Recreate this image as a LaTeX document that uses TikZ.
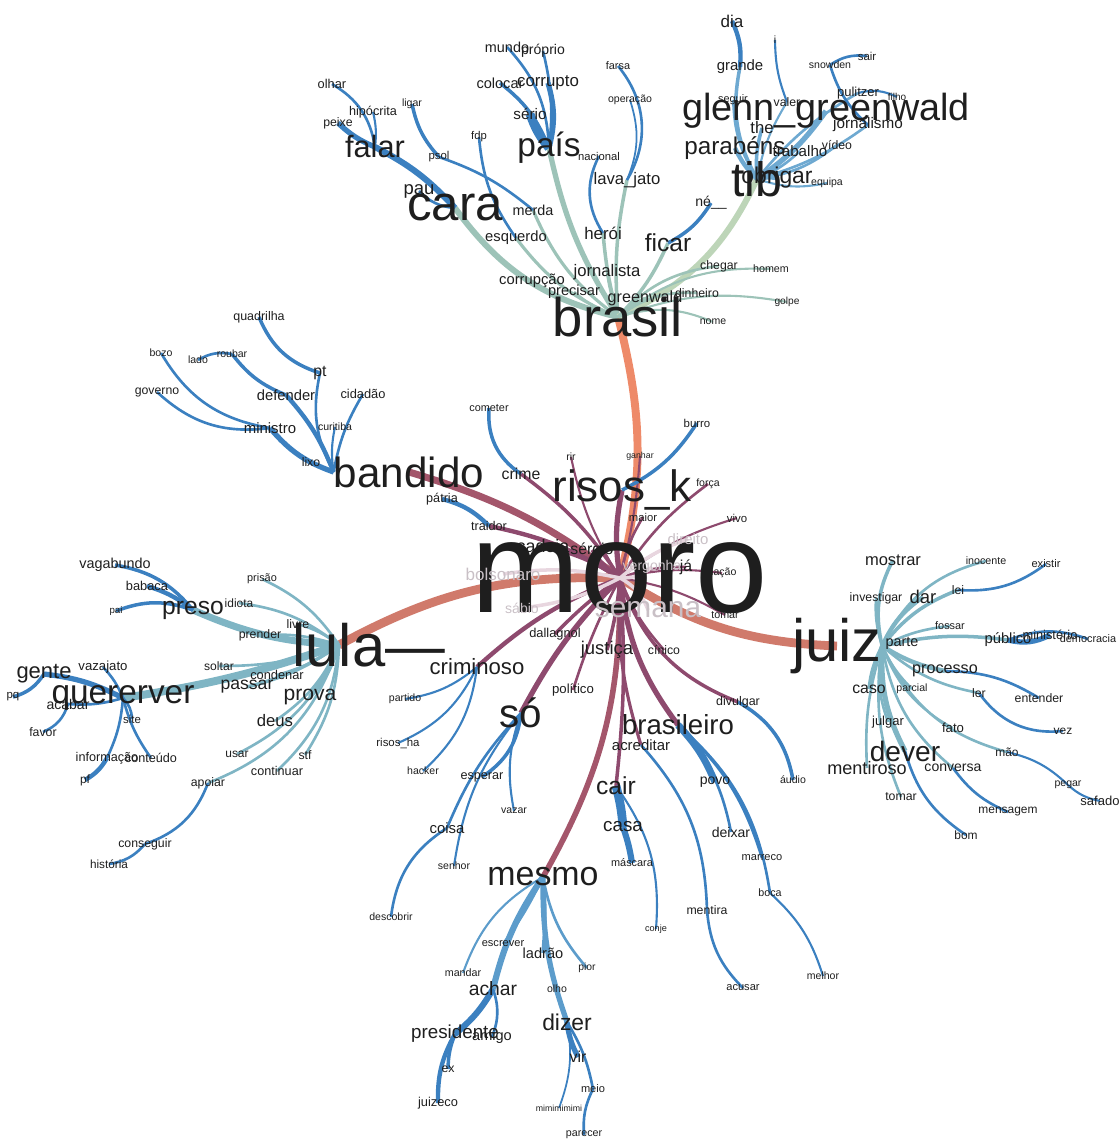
\documentclass[tikz,border=0pt]{standalone}
\usepackage{fontspec}
\setmainfont{Liberation Sans}
\usetikzlibrary{backgrounds}
\definecolor{cInk}{HTML}{1E1E1E}
\definecolor{cFaint}{HTML}{C9C0C6}
\definecolor{cOr}{HTML}{EE8A69}
\definecolor{cRed}{HTML}{D07A6B}
\definecolor{cWine}{HTML}{8E4A6E}
\definecolor{cWineL}{HTML}{A4566B}
\definecolor{cPink}{HTML}{E8D6DF}
\definecolor{cSage}{HTML}{9DC3B8}
\definecolor{cLeaf}{HTML}{BDD5B8}
\definecolor{cSky}{HTML}{6EA9D1}
\definecolor{cBlue}{HTML}{3B80C0}
\definecolor{cTeal}{HTML}{7FB5C4}
\definecolor{cMid}{HTML}{5C9CCB}
\begin{document}
\begin{tikzpicture}[x=0.02cm,y=-0.02cm,line cap=round]
\tikzset{w/.style={font=\fontsize{#1}{#1}\selectfont, inner sep=0pt, text=cInk},
    fw/.style={w=#1, text=cFaint},
    bl/.style={bend left=#1}, br/.style={bend right=#1}}
\tikzset{eOr/.style={draw=cOr,line width=#1pt}, eRed/.style={draw=cRed,line width=#1pt},
    eWine/.style={draw=cWine,line width=#1pt}, eWineL/.style={draw=cWineL,line width=#1pt},
    ePink/.style={draw=cPink,line width=#1pt}, eSage/.style={draw=cSage,line width=#1pt},
    eLeaf/.style={draw=cLeaf,line width=#1pt}, eSky/.style={draw=cSky,line width=#1pt},
    eBlue/.style={draw=cBlue,line width=#1pt}, eTeal/.style={draw=cTeal,line width=#1pt},
    eMid/.style={draw=cMid,line width=#1pt}}
\useasboundingbox (0,0) rectangle (1119,1142);

\node[w=74] (moro) at (620,578) {moro};
\node[w=31] (brasil) at (618,317) {brasil};
\node[w=34] (lula) at (339,645) {lula\rlap{—}};
\node[w=34] (juiz) at (837,646) {juiz};
\node[w=24] (bandido) at (409,472) {bandido};
\node[w=25] (risosk) at (622,490) {risos\_k};

% brasil
\node[w=28] (cara) at (455,208) {cara};
\node[w=19] (pais) at (549,148) {país};
\node[w=17.5] (falar) at (375,147) {falar};
\node[w=21.5] (glenn) at (826,111) {glenn\_greenwald};
\node[w=27.5] (tib) at (757,179) {tib};
\node[w=13.8] (parabens) at (735,148) {parabéns};
\node[w=13] (obrigar) at (777,178) {obrigar};
\node[w=9.5] (the) at (762,128) {the};
\node[w=14] (ficar) at (668,243) {ficar};
\node[w=9.5] (lavajato) at (627,180) {lava\_jato};
\node[w=9.6] (heroi) at (603,233) {herói};
\node[w=9.5] (jornalista) at (607,272) {jornalista};
\node[w=9.2] (greenwald) at (645,298) {greenwald};
\node[w=7] (dinheiro) at (697,293) {dinheiro};
\node[w=7] (chegar) at (719,266) {chegar};
\node[w=6.1] (homem) at (771,269) {homem};
\node[w=5.8] (golpe) at (787,302) {golpe};
\node[w=6] (nome) at (713,322) {nome};
\node[w=8] (ne) at (711,203) {né\_\_};
\node[w=8.5] (grande) at (740,67) {grande};
\node[w=9.7] (dia) at (732,21) {dia};
\node[w=6] (ii) at (775,40) {i};
\node[w=6.2] (seguir) at (733,100) {seguir};
\node[w=7] (valer) at (787,102) {valer};
\node[w=6] (snowden) at (830,65) {snowden};
\node[w=6.5] (sair) at (867,56) {sair};
\node[w=7.4] (pulitzer) at (858,93) {pulitzer};
\node[w=5.7] (filho) at (897,97) {filho};
\node[w=8.7] (jornalismo) at (868,125) {jornalismo};
\node[w=7] (video) at (837,145) {vídeo};
\node[w=8.6] (trabalho) at (800,151) {trabalho};
\node[w=6] (equipa) at (827,183) {equipa};
\node[w=6.2] (farsa) at (618,66) {farsa};
\node[w=6] (operacao) at (630,100) {operação};
\node[w=6.4] (nacional) at (599,156) {nacional};
\node[w=8.2] (mundo) at (507,47) {mundo};
\node[w=8] (proprio) at (543,51) {próprio};
\node[w=8.3] (colocar) at (500,83) {colocar};
\node[w=9.6] (corrupto) at (548,83) {corrupto};
\node[w=8.7] (serio) at (530,114) {sério};
\node[w=6.4] (fdp) at (479,137) {fdp};
\node[w=6.5] (psol) at (439,157) {psol};
\node[w=6] (ligar) at (412,104) {ligar};
\node[w=7.3] (olhar) at (332,84) {olhar};
\node[w=7.2] (hipocrita) at (373,112) {hipócrita};
\node[w=7] (peixe) at (338,123) {peixe};
\node[w=10.5] (pau) at (419,191) {pau};
\node[w=8.2] (merda) at (533,210) {merda};
\node[w=8.4] (esquerdo) at (516,238) {esquerdo};
\node[w=8.4] (corrupcao) at (532,281) {corrupção};
\node[w=8.3] (precisar) at (574,292) {precisar};

% bandido
\node[w=7.1] (quadrilha) at (259,317) {quadrilha};
\node[w=6] (bozo) at (161,353) {bozo};
\node[w=6] (lado) at (198,360) {lado};
\node[w=6] (roubar) at (232,354) {roubar};
\node[w=9] (pt) at (320,373) {pt};
\node[w=7] (governo) at (157,392) {governo};
\node[w=8.4] (defender) at (286,395) {defender};
\node[w=7.3] (cidadao) at (363,394) {cidadão};
\node[w=8.5] (ministro) at (270,428) {ministro};
\node[w=6] (curitiba) at (335,427) {curitiba};
\node[w=7] (lixo) at (311,462) {lixo};
\node[w=7.2] (patria) at (442,499) {pátria};
\node[w=7.2] (traidor) at (489,526) {traidor};
\node[w=6.2] (cometer) at (489,408) {cometer};
\node[w=9] (crime) at (521,474) {crime};
\node[w=6.5] (burro) at (697,423) {burro};

% moro
\node[w=6] (rir) at (571,457) {rir};
\node[w=5] (ganhar) at (640,456) {ganhar};
\node[w=6] (forca) at (708,484) {força};
\node[w=6.4] (maior) at (643,517) {maior};
\node[w=6.5] (vivo) at (737,518) {vivo};
\node[fw=8.5] (direito) at (688,539) {direito};
\node[w=10.2] (cadeia) at (543,546) {cadeia};
\node[w=9] (sergio) at (592,550) {sérgio};
\node[fw=8] (vergonha) at (652,567) {vergonha};
\node[w=9] (ja) at (686,567) {já};
\node[w=6] (nacao) at (722,573) {nação};
\node[fw=9.7] (bolsonaro) at (503,574) {bolsonaro};
\node[fw=8] (sabio) at (522,608) {sábio};
\node[fw=17] (semana) at (648,610) {semana};
\node[w=6.1] (tomar) at (725,615) {tomar};
\node[w=7.3] (dallagnol) at (555,634) {dallagnol};
\node[w=10.5] (justica) at (607,650) {justiça};
\node[w=7] (cinico) at (664,650) {cínico};

% lula
\node[w=8.2] (vagabundo) at (115,565) {vagabundo};
\node[w=7.3] (babaca) at (147,586) {babaca};
\node[w=6.2] (prisao) at (262,579) {prisão};
\node[w=5.5] (pai) at (116,611) {pai};
\node[w=14] (preso) at (193,610) {preso};
\node[w=6.8] (idiota) at (239,603) {idiota};
\node[w=7] (livre) at (298,624) {livre};
\node[w=7] (prender) at (260,635) {prender};
\node[w=12.5] (gente) at (44,674) {gente};
\node[w=7.5] (vazajato) at (103,667) {vazajato};
\node[w=6.9] (soltar) at (219,666) {soltar};
\node[w=7.3] (condenar) at (277,675) {condenar};
\node[w=10] (passar) at (247,687) {passar};
\node[w=19] (quererver) at (123,698) {quererver};
\node[w=12] (prova) at (310,697) {prova};
\node[w=6.5] (pq) at (13,697) {pq};
\node[w=8] (acabar) at (68,704) {acabar};
\node[w=6.5] (site) at (132,719) {site};
\node[w=9.5] (deus) at (275,721) {deus};
\node[w=7] (favor) at (43,732) {favor};
\node[w=6.8] (usar) at (237,754) {usar};
\node[w=7.2] (informacao) at (107,758) {informação};
\node[w=7.2] (conteudo) at (151,758) {conteúdo};
\node[w=7] (stf) at (305,755) {stf};
\node[w=6.8] (pf) at (85,780) {pf};
\node[w=7.2] (continuar) at (277,771) {continuar};
\node[w=7] (apoiar) at (208,783) {apoiar};
\node[w=7] (conseguir) at (145,844) {conseguir};
\node[w=6.7] (historia) at (109,864) {história};

% below moro
\node[w=12.6] (criminoso) at (477,667) {criminoso};
\node[w=7.5] (politico) at (573,690) {político};
\node[w=6] (partido) at (405,699) {partido};
\node[w=23] (so) at (521,713) {só};
\node[w=6.5] (risosha) at (398,743) {risos\_ha};
\node[w=6] (hacker) at (423,771) {hacker};
\node[w=7.2] (esperar) at (482,777) {esperar};
\node[w=14] (cair) at (616,786) {cair};
\node[w=6] (vazar) at (514,811) {vazar};
\node[w=8.5] (coisa) at (447,828) {coisa};
\node[w=10.7] (casa) at (623,827) {casa};
\node[w=6] (senhor) at (454,866) {senhor};
\node[w=6.2] (mascara) at (632,863) {máscara};
\node[w=19.3] (mesmo) at (543,877) {mesmo};
\node[w=6] (descobrir) at (391,917) {descobrir};
\node[w=7.1] (divulgar) at (738,702) {divulgar};
\node[w=15.7] (brasileiro) at (678,725) {brasileiro};
\node[w=8.5] (acreditar) at (641,745) {acreditar};
\node[w=8] (povo) at (715,782) {povo};
\node[w=6] (audio) at (793,780) {áudio};
\node[w=8] (deixar) at (731,832) {deixar};
\node[w=6.3] (marreco) at (762,858) {marreco};
\node[w=5.2] (conje) at (656,929) {conje};
\node[w=6.1] (boca) at (770,893) {boca};
\node[w=7] (mentira) at (707,910) {mentira};
\node[w=6] (melhor) at (823,976) {melhor};
\node[w=6.3] (acusar) at (743,988) {acusar};

% mesmo
\node[w=6.3] (escrever) at (503,944) {escrever};
\node[w=8.3] (ladrao) at (543,953) {ladrão};
\node[w=5.9] (pior) at (587,968) {pior};
\node[w=6.1] (mandar) at (463,973) {mandar};
\node[w=6] (olho) at (557,989) {olho};
\node[w=11] (achar) at (493,989) {achar};
\node[w=13] (dizer) at (567,1022) {dizer};
\node[w=10.7] (presidente) at (455,1034) {presidente};
\node[w=8.3] (amigo) at (492,1037) {amigo};
\node[w=9] (vir) at (578,1057) {vir};
\node[w=7] (ex) at (448,1069) {ex};
\node[w=6.3] (meio) at (593,1089) {meio};
\node[w=5] (mimimi) at (559,1108) {mimimimimi};
\node[w=7.3] (juizeco) at (438,1103) {juizeco};
\node[w=6.1] (parecer) at (584,1135) {parecer};

% juiz
\node[w=9.4] (mostrar) at (893,560) {mostrar};
\node[w=6.1] (inocente) at (986,561) {inocente};
\node[w=6.3] (existir) at (1046,564) {existir};
\node[w=7] (investigar) at (876,598) {investigar};
\node[w=10.5] (dar) at (923,597) {dar};
\node[w=7] (lei) at (958,590) {lei};
\node[w=6.2] (fossar) at (950,626) {fossar};
\node[w=8.2] (parte) at (902,643) {parte};
\node[w=8.4] (publico) at (1008,640) {público};
\node[w=7.3] (ministerio) at (1050,635) {ministério};
\node[w=6.2] (democracia) at (1088,639) {democracia};
\node[w=9.2] (processo) at (945,671) {processo};
\node[w=9] (caso) at (869,689) {caso};
\node[w=6] (parcial) at (912,689) {parcial};
\node[w=7] (ler) at (979,693) {ler};
\node[w=7] (entender) at (1039,698) {entender};
\node[w=7.4] (julgar) at (888,722) {julgar};
\node[w=7.5] (fato) at (953,728) {fato};
\node[w=6.8] (vez) at (1063,731) {vez};
\node[w=16] (dever) at (905,751) {dever};
\node[w=6.8] (mao) at (1007,752) {mão};
\node[w=10.3] (mentiroso) at (867,768) {mentiroso};
\node[w=8] (conversa) at (953,768) {conversa};
\node[w=6] (pegar) at (1068,785) {pegar};
\node[w=7.4] (safado) at (1100,801) {safado};
\node[w=7] (tomarj) at (901,797) {tomar};
\node[w=6.8] (mensagem) at (1008,812) {mensagem};
\node[w=6.8] (bom) at (966,835) {bom};

\begin{scope}[on background layer]
\draw[eOr=4.5] (moro.center) to[br=14] (brasil.center);
\draw[eRed=5] (moro.center) to[br=15] (lula.center);
\draw[eRed=5] (moro.center) to[br=15] (juiz.center);
\draw[eWineL=4] (moro.center) to[br=10] (bandido.center);
\draw[eWineL=3.2] (moro.center) to[bl=15] (mesmo.center);
\draw[eWine=2] (moro.center) to[bl=5] (cair.center);
\draw[eWine=3] (moro.center) to[br=8] (so.center);
\draw[eWine=2.5] (moro.center) to[br=10] (criminoso.center);
\draw[eWine=3] (moro.center) to[br=15] (brasileiro.center);
\draw[eWine=1.8] (moro.center) to[br=10] (acreditar.center);
\draw[eWine=2] (moro.center) to[bl=5] (justica.center);
\draw[eWine=2] (moro.center) to[br=5] (dallagnol.center);
\draw[eWine=1.5] (moro.center) to[br=5] (politico.center);
\draw[eWine=2] (moro.center) to[br=25] (divulgar.center);
\draw[eWine=1.5] (moro.center) to[br=10] (cinico.center);
\draw[eWine=1.2] (moro.center) to[bl=10] (tomar.center);
\draw[eWine=1.2] (moro.center) to[bl=10] (nacao.center);
\draw[eWine=1.5] (moro.center) to[bl=10] (ja.center);
\draw[eWine=1.2] (moro.center) to[bl=10] (vivo.center);
\draw[eWine=1.5] (moro.center) to[bl=10] (maior.center);
\draw[eWine=1.5] (moro.center) to[bl=10] (forca.center);
\draw[eWine=1.2] (moro.center) to[br=5] (ganhar.center);
\draw[eWine=1.2] (moro.center) to[bl=10] (rir.center);
\draw[eWine=2] (moro.center) to[br=10] (crime.center);
\draw[eWine=3] (moro.center) to[bl=10] (risosk.center);
\draw[eWine=2.5] (moro.center) to[br=10] (cadeia.center);
\draw[eWine=2] (moro.center) to[bl=10] (sergio.center);
\draw[eWine=2.5] (moro.center) to[br=10] (traidor.center);
\draw[ePink=2] (moro.center) to[bl=10] (direito.center);
\draw[ePink=2] (moro.center) to[br=20] (vergonha.center);
\draw[ePink=2] (moro.center) to[bl=20] (semana.center);
\draw[ePink=2] (moro.center) to[br=10] (bolsonaro.center);
\draw[ePink=2] (moro.center) to[bl=10] (sabio.center);

\draw[eSage=3.4] (brasil.center) to[bl=20] (cara.center);
\draw[eSage=3] (brasil.center) to[bl=10] (pais.center);
\draw[eSage=1.8] (brasil.center) to[bl=15] (merda.center);
\draw[eSage=1.8] (brasil.center) to[bl=15] (esquerdo.center);
\draw[eSage=1.5] (brasil.center) to[bl=10] (corrupcao.center);
\draw[eSage=1.5] (brasil.center) to[bl=10] (precisar.center);
\draw[eSage=2] (brasil.center) to[bl=5] (heroi.center);
\draw[eSage=2] (brasil.center) to[bl=8] (lavajato.center);
\draw[eSage=1.5] (brasil.center) to[bl=5] (jornalista.center);
\draw[eSage=2] (brasil.center) to[br=10] (ficar.center);
\draw[eLeaf=3.5] (brasil.center) to[br=20] (tib.center);
\draw[eSage=1.5] (brasil.center) to[bl=10] (greenwald.center);
\draw[eSage=1.5] (brasil.center) to[bl=20] (dinheiro.center);
\draw[eSage=1.5] (brasil.center) to[bl=20] (chegar.center);
\draw[eSage=1.2] (brasil.center) to[bl=20] (homem.center);
\draw[eSage=1.2] (brasil.center) to[bl=15] (golpe.center);
\draw[eSage=1.2] (brasil.center) to[bl=20] (nome.center);
\draw[eBlue=1.5] (pais.center) to[br=20] (mundo.center);
\draw[eBlue=1.5] (pais.center) to[br=10] (proprio.center);
\draw[eBlue=2] (pais.center) to[br=15] (colocar.center);
\draw[eBlue=3] (pais.center) to[br=15] (corrupto.center);
\draw[eBlue=5] (pais.center) to[bl=10] (serio.center);
\draw[eBlue=3.5] (cara.center) to[br=10] (falar.center);
\draw[eBlue=1.5] (cara.center) to[bl=20] (pau.center);
\draw[eBlue=1.5] (merda.center) to[br=10] (psol.center);
\draw[eBlue=2] (psol.center) to[bl=15] (ligar.center);
\draw[eBlue=1.5] (esquerdo.center) to[bl=15] (fdp.center);
\draw[eBlue=1.5] (falar.center) to[br=25] (olhar.center);
\draw[eBlue=1.2] (falar.center) to[br=10] (hipocrita.center);
\draw[eBlue=3] (falar.center) to[bl=10] (peixe.center);
\draw[eBlue=1.5] (lavajato.center) to[br=35] (farsa.center);
\draw[eBlue=1] (lavajato.center) to[br=20] (operacao.center);
\draw[eBlue=1.5] (heroi.center) to[bl=30] (nacional.center);
\draw[eBlue=2] (ficar.center) to[br=15] (ne.center);
\draw[eSky=3] (tib.center) to[br=10] (glenn.center);
\draw[eSky=2.5] (tib.center) to[bl=10] (parabens.center);
\draw[eSky=2.5] (tib.center) to[bl=10] (obrigar.center);
\draw[eSky=2] (tib.center) to[bl=10] (the.center);
\draw[eSky=2] (tib.center) to[bl=20] (grande.center);
\draw[eSky=1.5] (tib.center) to[br=10] (trabalho.center);
\draw[eSky=1.5] (tib.center) to[br=15] (video.center);
\draw[eSky=1.2] (tib.center) to[br=15] (equipa.center);
\draw[eSky=1.5] (tib.center) to[br=10] (jornalismo.center);
\draw[eSky=1.5] (tib.center) to[bl=10] (pulitzer.center);
\draw[eSky=1.2] (tib.center) to[bl=10] (valer.center);
\draw[eSky=1.2] (tib.center) to[bl=15] (seguir.center);
\draw[eBlue=2.5] (grande.center) to[br=15] (dia.center);
\draw[eBlue=1.2] (valer.center) to[bl=10] (ii.center);
\draw[eBlue=1.5] (jornalismo.center) to[bl=15] (snowden.center);
\draw[eBlue=1.5] (snowden.center) to[bl=20] (sair.center);
\draw[eBlue=1.2] (pulitzer.center) to[bl=20] (filho.center);

\draw[eBlue=3] (bandido.west) to[bl=15] (ministro.center);
\draw[eBlue=1.5] (bandido.west) to[bl=10] (lixo.center);
\draw[eBlue=2.5] (bandido.west) to[br=10] (defender.center);
\draw[eBlue=1.5] (bandido.west) to[bl=20] (pt.center);
\draw[eBlue=1.2] (bandido.west) to[bl=10] (curitiba.center);
\draw[eBlue=1.5] (bandido.west) to[bl=10] (cidadao.center);
\draw[eBlue=2] (pt.center) to[bl=25] (quadrilha.center);
\draw[eBlue=2] (defender.center) to[bl=15] (roubar.center);
\draw[eBlue=1.5] (roubar.center) to[br=20] (lado.center);
\draw[eBlue=1.5] (ministro.center) to[bl=25] (bozo.center);
\draw[eBlue=1.5] (ministro.center) to[bl=25] (governo.center);
\draw[eBlue=2.5] (traidor.center) to[br=15] (patria.center);
\draw[eBlue=2] (crime.center) to[bl=30] (cometer.center);
\draw[eBlue=2] (risosk.center) to[br=15] (burro.center);

\draw[eTeal=4] (lula.center) to[bl=10] (preso.center);
\draw[eTeal=4.5] (lula.center) to[bl=5] (quererver.center);
\draw[eTeal=1.5] (lula.center) to[br=15] (idiota.center);
\draw[eTeal=1.5] (lula.center) to[br=15] (prisao.center);
\draw[eTeal=1.5] (lula.center) to[br=10] (livre.center);
\draw[eTeal=1.5] (lula.center) to[br=10] (prender.center);
\draw[eTeal=1.5] (lula.center) to[bl=10] (soltar.center);
\draw[eTeal=1.5] (lula.center) to[bl=10] (condenar.center);
\draw[eTeal=2] (lula.center) to[bl=10] (passar.center);
\draw[eTeal=2.5] (lula.center) to[bl=10] (prova.center);
\draw[eTeal=1.5] (lula.center) to[bl=15] (deus.center);
\draw[eTeal=1.5] (lula.center) to[bl=20] (usar.center);
\draw[eTeal=1.5] (lula.center) to[bl=15] (stf.center);
\draw[eTeal=1.5] (lula.center) to[bl=20] (continuar.center);
\draw[eTeal=1.5] (lula.center) to[bl=25] (apoiar.center);
\draw[eBlue=2] (preso.center) to[br=20] (vagabundo.center);
\draw[eBlue=2.5] (preso.center) to[br=10] (babaca.center);
\draw[eBlue=2] (preso.center) to[br=20] (pai.center);
\draw[eBlue=3] (quererver.center) to[br=10] (gente.center);
\draw[eBlue=1.5] (quererver.center) to[br=10] (vazajato.center);
\draw[eBlue=1.5] (quererver.center) to[bl=10] (acabar.center);
\draw[eBlue=1.5] (quererver.center) to[bl=20] (site.center);
\draw[eBlue=1.5] (quererver.center) to[bl=10] (informacao.center);
\draw[eBlue=1.5] (quererver.center) to[br=10] (conteudo.center);
\draw[eBlue=2] (gente.center) to[bl=20] (pq.center);
\draw[eBlue=1.5] (acabar.center) to[bl=25] (favor.center);
\draw[eBlue=2.5] (informacao.center) to[bl=15] (pf.center);
\draw[eBlue=1.5] (apoiar.center) to[bl=25] (conseguir.center);
\draw[eBlue=1.5] (conseguir.center) to[bl=20] (historia.center);

\draw[eBlue=1.2] (criminoso.center) to[bl=15] (partido.center);
\draw[eBlue=1.2] (criminoso.center) to[bl=20] (risosha.center);
\draw[eBlue=1.2] (criminoso.center) to[bl=20] (hacker.center);
\draw[eBlue=2] (so.center) to[bl=25] (esperar.center);
\draw[eBlue=1.2] (so.center) to[br=15] (vazar.center);
\draw[eBlue=1.5] (so.center) to[br=10] (coisa.center);
\draw[eBlue=1.2] (so.center) to[br=15] (senhor.center);
\draw[eBlue=1.5] (coisa.center) to[br=25] (descobrir.center);
\draw[eBlue=5] (cair.center) to[bl=5] (casa.center);
\draw[eBlue=3.5] (casa.center) to[bl=5] (mascara.center);
\draw[eBlue=1.2] (cair.center) to[bl=20] (conje.center);
\draw[eBlue=4] (brasileiro.center) to[bl=10] (povo.center);
\draw[eBlue=1.5] (brasileiro.center) to[bl=15] (deixar.center);
\draw[eBlue=1.5] (brasileiro.center) to[bl=15] (marreco.center);
\draw[eBlue=1.5] (brasileiro.center) to[bl=20] (boca.center);
\draw[eBlue=1.2] (boca.center) to[bl=15] (melhor.center);
\draw[eBlue=1.5] (acreditar.center) to[bl=20] (mentira.center);
\draw[eBlue=1.5] (mentira.center) to[br=20] (acusar.center);
\draw[eBlue=2] (divulgar.center) to[bl=25] (audio.center);

\draw[eMid=1.5] (mesmo.center) to[bl=5] (escrever.center);
\draw[eMid=2] (mesmo.center) to[bl=5] (ladrao.center);
\draw[eMid=1.5] (mesmo.center) to[br=15] (pior.center);
\draw[eMid=1.2] (mesmo.center) to[br=20] (mandar.center);
\draw[eMid=1.2] (mesmo.center) to[br=10] (olho.center);
\draw[eMid=3.5] (mesmo.center) to[br=10] (achar.center);
\draw[eMid=3] (mesmo.center) to[br=10] (dizer.center);
\draw[eBlue=3.5] (achar.center) to[bl=10] (presidente.center);
\draw[eBlue=1.5] (achar.center) to[bl=20] (amigo.center);
\draw[eBlue=2] (presidente.center) to[br=10] (ex.center);
\draw[eBlue=2.5] (presidente.center) to[br=15] (juizeco.center);
\draw[eBlue=3] (dizer.center) to[br=10] (vir.center);
\draw[eBlue=1] (dizer.center) to[bl=15] (mimimi.center);
\draw[eBlue=1.5] (dizer.center) to[bl=10] (meio.center);
\draw[eBlue=1.5] (meio.center) to[br=15] (parecer.center);

\draw[eTeal=2] (juiz.east) to[bl=20] (mostrar.center);
\draw[eTeal=1.5] (juiz.east) to[bl=25] (inocente.center);
\draw[eTeal=1.5] (juiz.east) to[bl=10] (investigar.center);
\draw[eTeal=2.5] (juiz.east) to[bl=15] (dar.center);
\draw[eTeal=2] (juiz.east) to[bl=15] (lei.center);
\draw[eTeal=1.5] (juiz.east) to[bl=10] (fossar.center);
\draw[eTeal=2] (juiz.east) to[bl=5] (parte.center);
\draw[eTeal=2] (juiz.east) to[bl=10] (publico.center);
\draw[eTeal=2.5] (juiz.east) to[br=10] (processo.center);
\draw[eTeal=2] (juiz.east) to[br=10] (caso.center);
\draw[eTeal=1.5] (juiz.east) to[br=10] (parcial.center);
\draw[eTeal=1.5] (juiz.east) to[br=15] (ler.center);
\draw[eTeal=1.5] (juiz.east) to[br=15] (julgar.center);
\draw[eTeal=1.2] (juiz.east) to[br=20] (fato.center);
\draw[eTeal=3] (juiz.east) to[br=15] (dever.center);
\draw[eTeal=1.5] (juiz.east) to[br=10] (mentiroso.center);
\draw[eTeal=1.5] (juiz.east) to[br=20] (conversa.center);
\draw[eTeal=1.5] (juiz.east) to[br=25] (mao.center);
\draw[eTeal=1.5] (juiz.east) to[br=15] (tomarj.center);
\draw[eBlue=1.5] (lei.center) to[br=20] (existir.center);
\draw[eBlue=3] (publico.center) to[br=20] (ministerio.center);
\draw[eBlue=1.5] (publico.center) to[bl=20] (democracia.center);
\draw[eBlue=1.5] (processo.center) to[bl=15] (entender.center);
\draw[eBlue=1.5] (ler.center) to[br=30] (vez.center);
\draw[eBlue=1.2] (mao.center) to[bl=15] (pegar.center);
\draw[eBlue=1.2] (pegar.center) to[br=15] (safado.center);
\draw[eBlue=1.5] (conversa.center) to[br=15] (mensagem.center);
\draw[eBlue=1.5] (dever.center) to[br=20] (bom.center);
\end{scope}
\end{tikzpicture}
\end{document}
